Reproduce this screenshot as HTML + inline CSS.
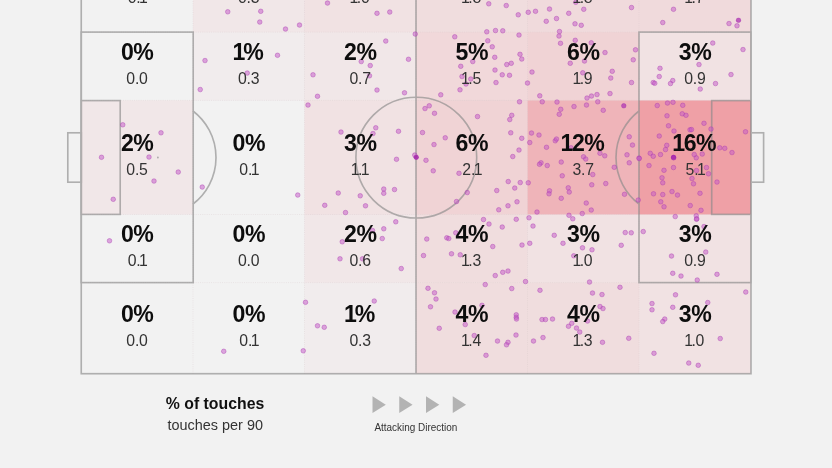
<!DOCTYPE html>
<html lang="en"><head><meta charset="utf-8"><title>Touch map</title>
<style>html,body{margin:0;padding:0;background:#f2f2f2;}body{width:832px;height:468px;overflow:hidden;}svg{display:block;}</style></head>
<body>
<svg width="832" height="468" viewBox="0 0 832 468">
<rect width="832" height="468" fill="#f2f2f2"/>
<rect x="193" y="-60.6" width="111.5" height="92.7" fill="rgb(235, 78, 90)" fill-opacity="0.0625"/>
<rect x="304.5" y="-60.6" width="111.5" height="92.7" fill="rgb(235, 78, 90)" fill-opacity="0.0938"/>
<rect x="416" y="-60.6" width="111.5" height="92.7" fill="rgb(235, 78, 90)" fill-opacity="0.1250"/>
<rect x="527.5" y="-60.6" width="111.5" height="92.7" fill="rgb(235, 78, 90)" fill-opacity="0.1406"/>
<rect x="639" y="-60.6" width="112.0" height="92.7" fill="rgb(235, 78, 90)" fill-opacity="0.1406"/>
<rect x="193" y="32.1" width="111.5" height="68.30000000000001" fill="rgb(235, 78, 90)" fill-opacity="0.0312"/>
<rect x="304.5" y="32.1" width="111.5" height="68.30000000000001" fill="rgb(235, 78, 90)" fill-opacity="0.0625"/>
<rect x="416" y="32.1" width="111.5" height="68.30000000000001" fill="rgb(235, 78, 90)" fill-opacity="0.1562"/>
<rect x="527.5" y="32.1" width="111.5" height="68.30000000000001" fill="rgb(235, 78, 90)" fill-opacity="0.1875"/>
<rect x="639" y="32.1" width="112.0" height="68.30000000000001" fill="rgb(235, 78, 90)" fill-opacity="0.0938"/>
<rect x="81.25" y="100.4" width="111.75" height="114.1" fill="rgb(235, 78, 90)" fill-opacity="0.0625"/>
<rect x="304.5" y="100.4" width="111.5" height="114.1" fill="rgb(235, 78, 90)" fill-opacity="0.0938"/>
<rect x="416" y="100.4" width="111.5" height="114.1" fill="rgb(235, 78, 90)" fill-opacity="0.1875"/>
<rect x="527.5" y="100.4" width="111.5" height="114.1" fill="rgb(235, 78, 90)" fill-opacity="0.3750"/>
<rect x="639" y="100.4" width="112.0" height="114.1" fill="rgb(235, 78, 90)" fill-opacity="0.5000"/>
<rect x="304.5" y="214.5" width="111.5" height="68.10000000000002" fill="rgb(235, 78, 90)" fill-opacity="0.0625"/>
<rect x="416" y="214.5" width="111.5" height="68.10000000000002" fill="rgb(235, 78, 90)" fill-opacity="0.1250"/>
<rect x="527.5" y="214.5" width="111.5" height="68.10000000000002" fill="rgb(235, 78, 90)" fill-opacity="0.0938"/>
<rect x="639" y="214.5" width="112.0" height="68.10000000000002" fill="rgb(235, 78, 90)" fill-opacity="0.0938"/>
<rect x="304.5" y="282.6" width="111.5" height="91.09999999999997" fill="rgb(235, 78, 90)" fill-opacity="0.0312"/>
<rect x="416" y="282.6" width="111.5" height="91.09999999999997" fill="rgb(235, 78, 90)" fill-opacity="0.1250"/>
<rect x="527.5" y="282.6" width="111.5" height="91.09999999999997" fill="rgb(235, 78, 90)" fill-opacity="0.1250"/>
<rect x="639" y="282.6" width="112.0" height="91.09999999999997" fill="rgb(235, 78, 90)" fill-opacity="0.0938"/>
<g stroke="#d9c9cc" stroke-width="0.7" stroke-dasharray="1 1.2" fill="none" opacity="0.5">
<line x1="193" y1="-60.6" x2="193" y2="373.7"/>
<line x1="304.5" y1="-60.6" x2="304.5" y2="373.7"/>
<line x1="416" y1="-60.6" x2="416" y2="373.7"/>
<line x1="527.5" y1="-60.6" x2="527.5" y2="373.7"/>
<line x1="639" y1="-60.6" x2="639" y2="373.7"/>
<line x1="81.25" y1="32.1" x2="751.0" y2="32.1"/>
<line x1="81.25" y1="100.4" x2="751.0" y2="100.4"/>
<line x1="81.25" y1="214.5" x2="751.0" y2="214.5"/>
<line x1="81.25" y1="282.6" x2="751.0" y2="282.6"/>
</g>
<g stroke="#8a8a8a" stroke-width="1.65" opacity="0.64" fill="none">
<rect x="81.25" y="-60.6" width="669.75" height="434.3"/>
<line x1="416" y1="-60.6" x2="416" y2="373.7"/>
<circle cx="416.3" cy="157.6" r="60.4"/>
<rect x="81.25" y="32.1" width="111.94999999999999" height="250.5"/>
<rect x="639" y="32.1" width="112.0" height="250.5"/>
<rect x="81.25" y="100.6" width="38.95" height="113.8"/>
<rect x="711.7" y="100.6" width="39.299999999999955" height="113.8"/>
<rect x="67.8" y="132.8" width="13.450000000000003" height="49.4"/>
<rect x="751.0" y="132.8" width="12.6" height="49.4"/>
<path d="M193 111.00 A58.5 58.5 0 0 1 193 204.00"/>
<path d="M639 111.00 A58.5 58.5 0 0 0 639 204.00"/>
</g>
<circle cx="157.9" cy="157.5" r="0.9" fill="#9a9a9a" fill-opacity="0.8"/>
<g fill="#c455c8" fill-opacity="0.5" stroke="#a838b0" stroke-opacity="0.45" stroke-width="0.9">
<circle cx="227.75" cy="11.80" r="2.3"/>
<circle cx="260.75" cy="11.30" r="2.3"/>
<circle cx="259.75" cy="22.05" r="2.3"/>
<circle cx="205.0" cy="60.55" r="2.3"/>
<circle cx="247.25" cy="73.05" r="2.3"/>
<circle cx="200.25" cy="89.55" r="2.3"/>
<circle cx="122.75" cy="124.80" r="2.3"/>
<circle cx="161.0" cy="132.80" r="2.3"/>
<circle cx="101.5" cy="157.30" r="2.3"/>
<circle cx="149.0" cy="157.05" r="2.3"/>
<circle cx="178.25" cy="172.05" r="2.3"/>
<circle cx="154.0" cy="181.05" r="2.3"/>
<circle cx="113.25" cy="199.30" r="2.3"/>
<circle cx="202.25" cy="187.05" r="2.3"/>
<circle cx="109.5" cy="240.80" r="2.3"/>
<circle cx="285.5" cy="29.05" r="2.3"/>
<circle cx="299.5" cy="25.05" r="2.3"/>
<circle cx="327.5" cy="3.05" r="2.3"/>
<circle cx="377.0" cy="13.30" r="2.3"/>
<circle cx="389.75" cy="12.05" r="2.3"/>
<circle cx="277.5" cy="55.30" r="2.3"/>
<circle cx="385.75" cy="41.05" r="2.3"/>
<circle cx="415.25" cy="34.05" r="2.3"/>
<circle cx="408.5" cy="59.30" r="2.3"/>
<circle cx="361.25" cy="61.55" r="2.3"/>
<circle cx="370.25" cy="65.55" r="2.3"/>
<circle cx="369.5" cy="75.80" r="2.3"/>
<circle cx="313.0" cy="74.80" r="2.3"/>
<circle cx="317.5" cy="96.30" r="2.3"/>
<circle cx="377.0" cy="90.05" r="2.3"/>
<circle cx="404.5" cy="92.80" r="2.3"/>
<circle cx="308.0" cy="105.05" r="2.3"/>
<circle cx="454.75" cy="36.80" r="2.3"/>
<circle cx="440.75" cy="94.80" r="2.3"/>
<circle cx="429.25" cy="105.80" r="2.3"/>
<circle cx="425.0" cy="108.55" r="2.3"/>
<circle cx="434.5" cy="113.30" r="2.3"/>
<circle cx="488.75" cy="3.80" r="2.3"/>
<circle cx="506.25" cy="5.55" r="2.3"/>
<circle cx="518.25" cy="14.80" r="2.3"/>
<circle cx="528.25" cy="12.30" r="2.3"/>
<circle cx="535.5" cy="11.30" r="2.3"/>
<circle cx="549.5" cy="9.05" r="2.3"/>
<circle cx="546.25" cy="21.30" r="2.3"/>
<circle cx="556.5" cy="18.55" r="2.3"/>
<circle cx="568.75" cy="13.30" r="2.3"/>
<circle cx="575.75" cy="2.30" r="2.3"/>
<circle cx="583.75" cy="9.30" r="2.3"/>
<circle cx="575.0" cy="23.80" r="2.3"/>
<circle cx="581.25" cy="25.30" r="2.3"/>
<circle cx="631.5" cy="7.55" r="2.3"/>
<circle cx="559.5" cy="31.55" r="2.3"/>
<circle cx="486.75" cy="31.80" r="2.3"/>
<circle cx="495.5" cy="30.55" r="2.3"/>
<circle cx="502.75" cy="30.80" r="2.3"/>
<circle cx="519.0" cy="35.05" r="2.3"/>
<circle cx="487.75" cy="40.80" r="2.3"/>
<circle cx="492.25" cy="46.80" r="2.3"/>
<circle cx="494.75" cy="57.30" r="2.3"/>
<circle cx="520.0" cy="54.30" r="2.3"/>
<circle cx="521.75" cy="59.05" r="2.3"/>
<circle cx="506.75" cy="64.55" r="2.3"/>
<circle cx="511.25" cy="63.30" r="2.3"/>
<circle cx="460.75" cy="66.30" r="2.3"/>
<circle cx="472.75" cy="61.55" r="2.3"/>
<circle cx="495.0" cy="70.05" r="2.3"/>
<circle cx="502.25" cy="74.80" r="2.3"/>
<circle cx="509.5" cy="75.30" r="2.3"/>
<circle cx="462.0" cy="76.55" r="2.3"/>
<circle cx="470.75" cy="79.05" r="2.3"/>
<circle cx="466.0" cy="84.05" r="2.3"/>
<circle cx="460.0" cy="89.80" r="2.3"/>
<circle cx="496.0" cy="82.55" r="2.3"/>
<circle cx="527.5" cy="83.05" r="2.3"/>
<circle cx="532.0" cy="72.05" r="2.3"/>
<circle cx="519.5" cy="101.80" r="2.3"/>
<circle cx="559.0" cy="36.05" r="2.3"/>
<circle cx="560.5" cy="43.30" r="2.3"/>
<circle cx="575.25" cy="40.30" r="2.3"/>
<circle cx="591.25" cy="42.80" r="2.3"/>
<circle cx="605.0" cy="52.55" r="2.3"/>
<circle cx="635.5" cy="49.80" r="2.3"/>
<circle cx="633.25" cy="59.80" r="2.3"/>
<circle cx="570.25" cy="63.30" r="2.3"/>
<circle cx="584.5" cy="61.05" r="2.3"/>
<circle cx="612.25" cy="71.30" r="2.3"/>
<circle cx="610.75" cy="78.05" r="2.3"/>
<circle cx="582.75" cy="72.80" r="2.3"/>
<circle cx="631.5" cy="82.55" r="2.3"/>
<circle cx="539.75" cy="95.80" r="2.3"/>
<circle cx="542.25" cy="101.80" r="2.3"/>
<circle cx="557.0" cy="102.05" r="2.3"/>
<circle cx="597.0" cy="94.55" r="2.3"/>
<circle cx="591.5" cy="96.05" r="2.3"/>
<circle cx="587.0" cy="98.05" r="2.3"/>
<circle cx="610.0" cy="93.55" r="2.3"/>
<circle cx="597.75" cy="101.80" r="2.3"/>
<circle cx="586.5" cy="105.05" r="2.3"/>
<circle cx="574.0" cy="106.55" r="2.3"/>
<circle cx="560.75" cy="109.30" r="2.3"/>
<circle cx="559.25" cy="114.30" r="2.3"/>
<circle cx="603.25" cy="110.30" r="2.3"/>
<circle cx="623.75" cy="105.80" r="2.3"/>
<circle cx="477.5" cy="116.55" r="2.3"/>
<circle cx="511.75" cy="115.30" r="2.3"/>
<circle cx="673.5" cy="9.30" r="2.3"/>
<circle cx="662.75" cy="22.55" r="2.3"/>
<circle cx="729.0" cy="23.55" r="2.3"/>
<circle cx="738.5" cy="20.30" r="2.3"/>
<circle cx="737.0" cy="25.80" r="2.3"/>
<circle cx="712.75" cy="43.05" r="2.3"/>
<circle cx="743.0" cy="49.55" r="2.3"/>
<circle cx="699.0" cy="64.55" r="2.3"/>
<circle cx="660.0" cy="68.30" r="2.3"/>
<circle cx="659.25" cy="76.55" r="2.3"/>
<circle cx="731.0" cy="74.55" r="2.3"/>
<circle cx="653.25" cy="82.55" r="2.3"/>
<circle cx="654.75" cy="83.30" r="2.3"/>
<circle cx="672.75" cy="80.55" r="2.3"/>
<circle cx="670.5" cy="83.55" r="2.3"/>
<circle cx="715.5" cy="83.55" r="2.3"/>
<circle cx="700.25" cy="89.05" r="2.3"/>
<circle cx="657.25" cy="105.55" r="2.3"/>
<circle cx="667.5" cy="103.05" r="2.3"/>
<circle cx="673.0" cy="102.30" r="2.3"/>
<circle cx="682.75" cy="105.30" r="2.3"/>
<circle cx="682.25" cy="113.80" r="2.3"/>
<circle cx="686.0" cy="115.30" r="2.3"/>
<circle cx="667.0" cy="115.80" r="2.3"/>
<circle cx="341.0" cy="132.05" r="2.3"/>
<circle cx="375.75" cy="127.80" r="2.3"/>
<circle cx="373.0" cy="133.55" r="2.3"/>
<circle cx="398.5" cy="131.30" r="2.3"/>
<circle cx="396.5" cy="159.30" r="2.3"/>
<circle cx="416.25" cy="157.30" r="2.3"/>
<circle cx="414.75" cy="155.05" r="2.3"/>
<circle cx="297.75" cy="195.05" r="2.3"/>
<circle cx="338.25" cy="193.05" r="2.3"/>
<circle cx="324.75" cy="205.30" r="2.3"/>
<circle cx="360.25" cy="195.80" r="2.3"/>
<circle cx="365.5" cy="205.80" r="2.3"/>
<circle cx="345.5" cy="212.55" r="2.3"/>
<circle cx="383.75" cy="189.05" r="2.3"/>
<circle cx="383.75" cy="193.30" r="2.3"/>
<circle cx="394.5" cy="189.55" r="2.3"/>
<circle cx="422.5" cy="132.55" r="2.3"/>
<circle cx="445.25" cy="137.80" r="2.3"/>
<circle cx="434.0" cy="144.55" r="2.3"/>
<circle cx="426.0" cy="160.30" r="2.3"/>
<circle cx="433.25" cy="170.80" r="2.3"/>
<circle cx="456.5" cy="201.55" r="2.3"/>
<circle cx="509.75" cy="119.55" r="2.3"/>
<circle cx="510.75" cy="132.80" r="2.3"/>
<circle cx="521.75" cy="138.30" r="2.3"/>
<circle cx="519.0" cy="150.05" r="2.3"/>
<circle cx="512.75" cy="156.55" r="2.3"/>
<circle cx="459.0" cy="173.30" r="2.3"/>
<circle cx="508.25" cy="181.55" r="2.3"/>
<circle cx="520.25" cy="182.55" r="2.3"/>
<circle cx="514.75" cy="188.05" r="2.3"/>
<circle cx="496.75" cy="190.55" r="2.3"/>
<circle cx="467.25" cy="192.55" r="2.3"/>
<circle cx="517.0" cy="201.80" r="2.3"/>
<circle cx="508.0" cy="205.80" r="2.3"/>
<circle cx="498.75" cy="209.80" r="2.3"/>
<circle cx="531.5" cy="133.05" r="2.3"/>
<circle cx="539.0" cy="135.05" r="2.3"/>
<circle cx="529.75" cy="142.55" r="2.3"/>
<circle cx="546.5" cy="147.30" r="2.3"/>
<circle cx="555.25" cy="140.80" r="2.3"/>
<circle cx="556.5" cy="139.05" r="2.3"/>
<circle cx="541.0" cy="162.80" r="2.3"/>
<circle cx="539.5" cy="164.30" r="2.3"/>
<circle cx="547.25" cy="165.55" r="2.3"/>
<circle cx="561.25" cy="162.05" r="2.3"/>
<circle cx="562.25" cy="175.80" r="2.3"/>
<circle cx="528.25" cy="182.80" r="2.3"/>
<circle cx="549.5" cy="190.80" r="2.3"/>
<circle cx="549.0" cy="193.80" r="2.3"/>
<circle cx="568.25" cy="187.80" r="2.3"/>
<circle cx="569.25" cy="192.05" r="2.3"/>
<circle cx="561.25" cy="198.30" r="2.3"/>
<circle cx="537.0" cy="212.05" r="2.3"/>
<circle cx="582.25" cy="213.55" r="2.3"/>
<circle cx="591.25" cy="210.05" r="2.3"/>
<circle cx="586.25" cy="203.05" r="2.3"/>
<circle cx="569.0" cy="215.30" r="2.3"/>
<circle cx="629.25" cy="136.80" r="2.3"/>
<circle cx="632.5" cy="145.05" r="2.3"/>
<circle cx="627.0" cy="154.80" r="2.3"/>
<circle cx="629.25" cy="162.80" r="2.3"/>
<circle cx="639.0" cy="158.05" r="2.3"/>
<circle cx="639.25" cy="158.55" r="2.3"/>
<circle cx="614.25" cy="167.30" r="2.3"/>
<circle cx="604.75" cy="155.80" r="2.3"/>
<circle cx="600.0" cy="153.30" r="2.3"/>
<circle cx="583.5" cy="156.80" r="2.3"/>
<circle cx="585.75" cy="159.05" r="2.3"/>
<circle cx="592.75" cy="174.55" r="2.3"/>
<circle cx="591.75" cy="184.80" r="2.3"/>
<circle cx="605.75" cy="183.55" r="2.3"/>
<circle cx="624.5" cy="194.30" r="2.3"/>
<circle cx="638.25" cy="200.05" r="2.3"/>
<circle cx="571.0" cy="147.80" r="2.3"/>
<circle cx="704.0" cy="123.30" r="2.3"/>
<circle cx="690.0" cy="129.80" r="2.3"/>
<circle cx="691.5" cy="129.55" r="2.3"/>
<circle cx="711.0" cy="129.05" r="2.3"/>
<circle cx="668.5" cy="125.80" r="2.3"/>
<circle cx="674.0" cy="131.05" r="2.3"/>
<circle cx="659.25" cy="136.05" r="2.3"/>
<circle cx="649.0" cy="165.55" r="2.3"/>
<circle cx="650.25" cy="153.30" r="2.3"/>
<circle cx="653.25" cy="156.30" r="2.3"/>
<circle cx="660.5" cy="154.55" r="2.3"/>
<circle cx="665.5" cy="149.55" r="2.3"/>
<circle cx="666.75" cy="145.30" r="2.3"/>
<circle cx="673.5" cy="157.55" r="2.3"/>
<circle cx="673.75" cy="157.80" r="2.3"/>
<circle cx="719.75" cy="147.80" r="2.3"/>
<circle cx="724.75" cy="148.30" r="2.3"/>
<circle cx="732.0" cy="152.55" r="2.3"/>
<circle cx="745.5" cy="131.80" r="2.3"/>
<circle cx="696.25" cy="157.80" r="2.3"/>
<circle cx="694.25" cy="154.55" r="2.3"/>
<circle cx="702.25" cy="154.05" r="2.3"/>
<circle cx="706.5" cy="167.55" r="2.3"/>
<circle cx="708.5" cy="173.80" r="2.3"/>
<circle cx="696.5" cy="170.55" r="2.3"/>
<circle cx="673.5" cy="167.55" r="2.3"/>
<circle cx="664.0" cy="170.30" r="2.3"/>
<circle cx="662.0" cy="177.80" r="2.3"/>
<circle cx="662.75" cy="182.80" r="2.3"/>
<circle cx="692.0" cy="178.55" r="2.3"/>
<circle cx="693.5" cy="183.80" r="2.3"/>
<circle cx="717.0" cy="182.05" r="2.3"/>
<circle cx="653.5" cy="193.80" r="2.3"/>
<circle cx="662.75" cy="194.55" r="2.3"/>
<circle cx="672.0" cy="191.55" r="2.3"/>
<circle cx="677.5" cy="195.05" r="2.3"/>
<circle cx="700.0" cy="193.30" r="2.3"/>
<circle cx="660.75" cy="201.80" r="2.3"/>
<circle cx="664.0" cy="206.80" r="2.3"/>
<circle cx="690.25" cy="205.55" r="2.3"/>
<circle cx="395.75" cy="221.80" r="2.3"/>
<circle cx="383.75" cy="228.80" r="2.3"/>
<circle cx="372.5" cy="230.55" r="2.3"/>
<circle cx="382.25" cy="238.55" r="2.3"/>
<circle cx="342.25" cy="241.80" r="2.3"/>
<circle cx="340.0" cy="258.80" r="2.3"/>
<circle cx="362.5" cy="258.80" r="2.3"/>
<circle cx="401.25" cy="268.55" r="2.3"/>
<circle cx="426.75" cy="239.05" r="2.3"/>
<circle cx="446.75" cy="237.80" r="2.3"/>
<circle cx="448.75" cy="238.55" r="2.3"/>
<circle cx="423.5" cy="255.55" r="2.3"/>
<circle cx="451.5" cy="253.80" r="2.3"/>
<circle cx="455.75" cy="232.80" r="2.3"/>
<circle cx="428.0" cy="288.30" r="2.3"/>
<circle cx="434.5" cy="292.80" r="2.3"/>
<circle cx="436.0" cy="299.05" r="2.3"/>
<circle cx="430.5" cy="306.80" r="2.3"/>
<circle cx="305.5" cy="302.30" r="2.3"/>
<circle cx="374.25" cy="301.05" r="2.3"/>
<circle cx="455.0" cy="312.05" r="2.3"/>
<circle cx="483.5" cy="219.55" r="2.3"/>
<circle cx="489.0" cy="224.05" r="2.3"/>
<circle cx="502.25" cy="227.05" r="2.3"/>
<circle cx="516.25" cy="219.30" r="2.3"/>
<circle cx="529.0" cy="217.80" r="2.3"/>
<circle cx="533.0" cy="226.05" r="2.3"/>
<circle cx="460.25" cy="254.80" r="2.3"/>
<circle cx="492.75" cy="246.55" r="2.3"/>
<circle cx="522.0" cy="245.05" r="2.3"/>
<circle cx="529.75" cy="243.30" r="2.3"/>
<circle cx="495.25" cy="275.55" r="2.3"/>
<circle cx="502.75" cy="272.30" r="2.3"/>
<circle cx="508.0" cy="271.05" r="2.3"/>
<circle cx="485.25" cy="284.55" r="2.3"/>
<circle cx="525.5" cy="281.55" r="2.3"/>
<circle cx="511.75" cy="288.55" r="2.3"/>
<circle cx="540.0" cy="290.30" r="2.3"/>
<circle cx="482.0" cy="305.30" r="2.3"/>
<circle cx="516.25" cy="314.80" r="2.3"/>
<circle cx="572.75" cy="218.80" r="2.3"/>
<circle cx="554.25" cy="235.30" r="2.3"/>
<circle cx="563.0" cy="243.30" r="2.3"/>
<circle cx="582.5" cy="247.80" r="2.3"/>
<circle cx="592.0" cy="249.80" r="2.3"/>
<circle cx="573.75" cy="255.80" r="2.3"/>
<circle cx="625.25" cy="232.55" r="2.3"/>
<circle cx="631.25" cy="232.80" r="2.3"/>
<circle cx="643.25" cy="231.55" r="2.3"/>
<circle cx="621.25" cy="245.30" r="2.3"/>
<circle cx="589.5" cy="282.05" r="2.3"/>
<circle cx="592.5" cy="293.05" r="2.3"/>
<circle cx="602.0" cy="294.55" r="2.3"/>
<circle cx="620.0" cy="287.30" r="2.3"/>
<circle cx="600.0" cy="306.55" r="2.3"/>
<circle cx="603.0" cy="308.55" r="2.3"/>
<circle cx="701.0" cy="210.30" r="2.3"/>
<circle cx="675.25" cy="216.55" r="2.3"/>
<circle cx="696.25" cy="215.80" r="2.3"/>
<circle cx="696.5" cy="219.30" r="2.3"/>
<circle cx="696.75" cy="218.80" r="2.3"/>
<circle cx="704.0" cy="226.55" r="2.3"/>
<circle cx="671.5" cy="256.05" r="2.3"/>
<circle cx="705.75" cy="252.05" r="2.3"/>
<circle cx="672.75" cy="273.30" r="2.3"/>
<circle cx="681.0" cy="276.05" r="2.3"/>
<circle cx="697.25" cy="280.05" r="2.3"/>
<circle cx="717.0" cy="274.30" r="2.3"/>
<circle cx="675.5" cy="294.80" r="2.3"/>
<circle cx="745.75" cy="292.05" r="2.3"/>
<circle cx="652.0" cy="303.55" r="2.3"/>
<circle cx="652.0" cy="309.80" r="2.3"/>
<circle cx="672.75" cy="307.30" r="2.3"/>
<circle cx="707.75" cy="302.55" r="2.3"/>
<circle cx="317.5" cy="325.80" r="2.3"/>
<circle cx="324.25" cy="327.30" r="2.3"/>
<circle cx="303.25" cy="350.80" r="2.3"/>
<circle cx="439.25" cy="328.30" r="2.3"/>
<circle cx="223.75" cy="351.30" r="2.3"/>
<circle cx="516.25" cy="317.30" r="2.3"/>
<circle cx="516.5" cy="319.05" r="2.3"/>
<circle cx="465.25" cy="324.55" r="2.3"/>
<circle cx="474.25" cy="335.55" r="2.3"/>
<circle cx="497.5" cy="341.05" r="2.3"/>
<circle cx="516.0" cy="335.05" r="2.3"/>
<circle cx="508.0" cy="342.30" r="2.3"/>
<circle cx="506.5" cy="344.80" r="2.3"/>
<circle cx="486.0" cy="355.30" r="2.3"/>
<circle cx="542.0" cy="319.55" r="2.3"/>
<circle cx="545.5" cy="319.55" r="2.3"/>
<circle cx="552.5" cy="319.05" r="2.3"/>
<circle cx="533.5" cy="341.05" r="2.3"/>
<circle cx="543.0" cy="337.55" r="2.3"/>
<circle cx="571.75" cy="323.30" r="2.3"/>
<circle cx="568.5" cy="326.30" r="2.3"/>
<circle cx="576.5" cy="328.05" r="2.3"/>
<circle cx="579.75" cy="332.05" r="2.3"/>
<circle cx="587.5" cy="321.05" r="2.3"/>
<circle cx="602.5" cy="342.30" r="2.3"/>
<circle cx="628.75" cy="338.30" r="2.3"/>
<circle cx="664.75" cy="319.05" r="2.3"/>
<circle cx="662.75" cy="321.55" r="2.3"/>
<circle cx="720.25" cy="338.55" r="2.3"/>
<circle cx="654.0" cy="353.30" r="2.3"/>
<circle cx="688.75" cy="363.05" r="2.3"/>
<circle cx="698.25" cy="365.30" r="2.3"/>
</g>
<g fill="#a21fa8" fill-opacity="0.75"><circle cx="673.5" cy="157.3" r="2.5"/><circle cx="416.2" cy="157.3" r="2.4"/><circle cx="738.5" cy="20.3" r="2.3" fill-opacity="0.5"/><circle cx="623.8" cy="105.8" r="2.3" fill-opacity="0.45"/></g>
<g font-family="'Liberation Sans', sans-serif" text-anchor="middle">
<text x="127.38 143.62" y="-20.85" font-size="23.1" font-weight="700" fill="#0d0d0d">0%</text>
<text x="132.10 138.47 143.50" y="3.25" font-size="15.8" fill="#333">0.1</text>
<text x="239.00 253.55" y="-20.85" font-size="23.1" font-weight="700" fill="#0d0d0d">1%</text>
<text x="242.38 248.75 255.12" y="3.25" font-size="15.8" fill="#333">0.3</text>
<text x="350.50 366.75" y="-20.85" font-size="23.1" font-weight="700" fill="#0d0d0d">3%</text>
<text x="353.88 358.90 365.28" y="3.25" font-size="15.8" fill="#333">1.0</text>
<text x="462.00 478.25" y="-20.85" font-size="23.1" font-weight="700" fill="#0d0d0d">6%</text>
<text x="465.38 470.40 476.78" y="3.25" font-size="15.8" fill="#333">1.8</text>
<text x="573.50 589.75" y="-20.85" font-size="23.1" font-weight="700" fill="#0d0d0d">6%</text>
<text x="576.88 581.90 588.27" y="3.25" font-size="15.8" fill="#333">1.8</text>
<text x="685.25 701.50" y="-20.85" font-size="23.1" font-weight="700" fill="#0d0d0d">5%</text>
<text x="688.62 693.65 700.02" y="3.25" font-size="15.8" fill="#333">1.7</text>
<text x="127.38 143.62" y="59.65" font-size="23.1" font-weight="700" fill="#0d0d0d">0%</text>
<text x="130.75 137.12 143.50" y="83.75" font-size="15.8" fill="#333">0.0</text>
<text x="239.00 253.55" y="59.65" font-size="23.1" font-weight="700" fill="#0d0d0d">1%</text>
<text x="242.38 248.75 255.12" y="83.75" font-size="15.8" fill="#333">0.3</text>
<text x="350.50 366.75" y="59.65" font-size="23.1" font-weight="700" fill="#0d0d0d">2%</text>
<text x="353.88 360.25 366.62" y="83.75" font-size="15.8" fill="#333">0.7</text>
<text x="462.00 478.25" y="59.65" font-size="23.1" font-weight="700" fill="#0d0d0d">5%</text>
<text x="465.38 470.40 476.78" y="83.75" font-size="15.8" fill="#333">1.5</text>
<text x="573.50 589.75" y="59.65" font-size="23.1" font-weight="700" fill="#0d0d0d">6%</text>
<text x="576.88 581.90 588.27" y="83.75" font-size="15.8" fill="#333">1.9</text>
<text x="685.25 701.50" y="59.65" font-size="23.1" font-weight="700" fill="#0d0d0d">3%</text>
<text x="688.62 695.00 701.38" y="83.75" font-size="15.8" fill="#333">0.9</text>
<text x="127.38 143.62" y="150.85" font-size="23.1" font-weight="700" fill="#0d0d0d">2%</text>
<text x="130.75 137.12 143.50" y="174.95" font-size="15.8" fill="#333">0.5</text>
<text x="239.00 255.25" y="150.85" font-size="23.1" font-weight="700" fill="#0d0d0d">0%</text>
<text x="243.72 250.10 255.12" y="174.95" font-size="15.8" fill="#333">0.1</text>
<text x="350.50 366.75" y="150.85" font-size="23.1" font-weight="700" fill="#0d0d0d">3%</text>
<text x="355.22 360.25 365.27" y="174.95" font-size="15.8" fill="#333">1.1</text>
<text x="462.00 478.25" y="150.85" font-size="23.1" font-weight="700" fill="#0d0d0d">6%</text>
<text x="466.73 473.10 478.12" y="174.95" font-size="15.8" fill="#333">2.1</text>
<text x="567.00 578.30 594.55" y="150.85" font-size="23.1" font-weight="700" fill="#0d0d0d">12%</text>
<text x="576.88 583.25 589.62" y="174.95" font-size="15.8" fill="#333">3.7</text>
<text x="678.75 690.05 706.30" y="150.85" font-size="23.1" font-weight="700" fill="#0d0d0d">16%</text>
<text x="689.98 696.35 701.38" y="174.95" font-size="15.8" fill="#333">5.1</text>
<text x="127.38 143.62" y="241.95" font-size="23.1" font-weight="700" fill="#0d0d0d">0%</text>
<text x="132.10 138.47 143.50" y="266.05" font-size="15.8" fill="#333">0.1</text>
<text x="239.00 255.25" y="241.95" font-size="23.1" font-weight="700" fill="#0d0d0d">0%</text>
<text x="242.38 248.75 255.12" y="266.05" font-size="15.8" fill="#333">0.0</text>
<text x="350.50 366.75" y="241.95" font-size="23.1" font-weight="700" fill="#0d0d0d">2%</text>
<text x="353.88 360.25 366.62" y="266.05" font-size="15.8" fill="#333">0.6</text>
<text x="462.00 478.25" y="241.95" font-size="23.1" font-weight="700" fill="#0d0d0d">4%</text>
<text x="465.38 470.40 476.78" y="266.05" font-size="15.8" fill="#333">1.3</text>
<text x="573.50 589.75" y="241.95" font-size="23.1" font-weight="700" fill="#0d0d0d">3%</text>
<text x="576.88 581.90 588.27" y="266.05" font-size="15.8" fill="#333">1.0</text>
<text x="685.25 701.50" y="241.95" font-size="23.1" font-weight="700" fill="#0d0d0d">3%</text>
<text x="688.62 695.00 701.38" y="266.05" font-size="15.8" fill="#333">0.9</text>
<text x="127.38 143.62" y="321.55" font-size="23.1" font-weight="700" fill="#0d0d0d">0%</text>
<text x="130.75 137.12 143.50" y="345.65" font-size="15.8" fill="#333">0.0</text>
<text x="239.00 255.25" y="321.55" font-size="23.1" font-weight="700" fill="#0d0d0d">0%</text>
<text x="243.72 250.10 255.12" y="345.65" font-size="15.8" fill="#333">0.1</text>
<text x="350.50 365.05" y="321.55" font-size="23.1" font-weight="700" fill="#0d0d0d">1%</text>
<text x="353.88 360.25 366.62" y="345.65" font-size="15.8" fill="#333">0.3</text>
<text x="462.00 478.25" y="321.55" font-size="23.1" font-weight="700" fill="#0d0d0d">4%</text>
<text x="465.38 470.40 476.78" y="345.65" font-size="15.8" fill="#333">1.4</text>
<text x="573.50 589.75" y="321.55" font-size="23.1" font-weight="700" fill="#0d0d0d">4%</text>
<text x="576.88 581.90 588.27" y="345.65" font-size="15.8" fill="#333">1.3</text>
<text x="685.25 701.50" y="321.55" font-size="23.1" font-weight="700" fill="#0d0d0d">3%</text>
<text x="688.62 693.65 700.02" y="345.65" font-size="15.8" fill="#333">1.0</text>
</g>
<g font-family="'Liberation Sans', sans-serif">
<text x="215" y="409.3" text-anchor="middle" font-size="17" font-weight="700" fill="#111" textLength="98.5" lengthAdjust="spacingAndGlyphs">% of touches</text>
<text x="215.2" y="430" text-anchor="middle" font-size="14" fill="#333" textLength="95.5" lengthAdjust="spacingAndGlyphs">touches per 90</text>
<text x="415.9" y="430.8" text-anchor="middle" font-size="10" fill="#333" textLength="83" lengthAdjust="spacingAndGlyphs">Attacking Direction</text>
</g>
<g fill="#b3b3b3">
<path d="M372.5 396.3 L385.8 404.7 L372.5 413.1 Z"/>
<path d="M399.25 396.3 L412.55 404.7 L399.25 413.1 Z"/>
<path d="M426.0 396.3 L439.3 404.7 L426.0 413.1 Z"/>
<path d="M452.75 396.3 L466.05 404.7 L452.75 413.1 Z"/>
</g>
</svg>
</body></html>
